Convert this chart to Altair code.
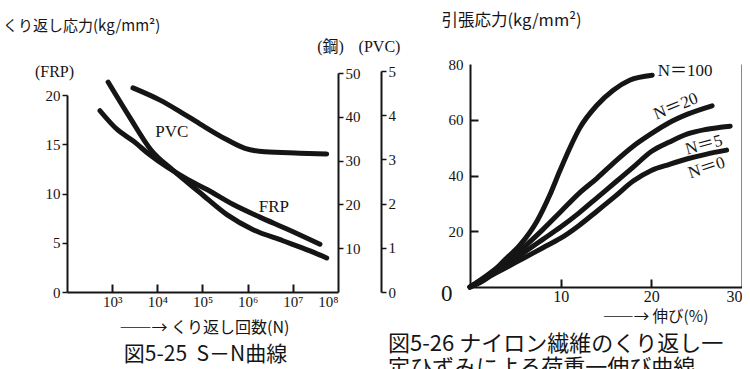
import altair as alt
import numpy as np
import pandas as pd

# ---------------- Fig. 5-25: S-N curves ----------------
# exponent of the number of cycles N (log10) and repeated stress (kg/mm2) on each material's own axis
frp_logn = [2.73, 3.11, 3.46, 3.84, 4.68, 5.10, 5.67, 6.27, 6.87, 7.60]
frp_stress = [18.4, 16.5, 15.35, 13.9, 11.4, 10.4, 8.9, 7.6, 6.4, 4.85]
pvc_logn = [2.91, 3.39, 3.87, 4.35, 4.94, 5.54, 6.12, 6.78, 7.38, 7.75]
pvc_stress = [4.75, 3.95, 3.2, 2.75, 2.25, 1.75, 1.41, 1.16, 0.93, 0.77]
steel_logn = [3.46, 4.06, 4.50, 4.94, 5.50, 5.94, 6.38, 7.15, 7.75]
steel_stress = [46.6, 43.8, 41.2, 38.4, 35.0, 32.8, 32.0, 31.7, 31.5]
sn_tick_logn = [3, 4, 5, 6, 7, 8]
sn_inner_tick_logn = [3, 4, 5, 6, 7]
frp_ticks = [0, 5, 10, 15, 20]
steel_ticks = [10, 20, 30, 40, 50]
pvc_ticks = [0, 1, 2, 3, 4, 5]
sn_labels = ["PVC", "FRP"]
sn_label_logn = [4.32, 6.58]
sn_label_stress = [16.2, 8.6]

# ---------------- Fig. 5-26: load - elongation of nylon fibre ----------------
n_series = ["N=100", "N=20", "N=5", "N=0"]
elong_n100 = [0, 1.9, 3.6, 5.5, 7.4, 8.8, 9.9, 11.0, 12.1, 14.0, 15.8, 17.6, 20.1]
stress_n100 = [0, 3.2, 9.0, 15.0, 23.7, 33.0, 41.6, 49.8, 57.0, 65.2, 70.6, 74.2, 76.0]
elong_n20 = [0, 2, 4, 6, 8, 10, 12, 14, 16, 18, 20, 22, 24, 26.7]
stress_n20 = [0, 4.5, 9.5, 14.5, 20.5, 27, 33.5, 39, 45, 50.5, 55, 59, 62, 65]
elong_n5 = [0, 2, 4, 6, 8, 10, 12, 14, 16, 18, 20, 22, 24, 26, 28.7]
stress_n5 = [0, 4, 8, 12.5, 17, 21.5, 26.5, 32, 37.5, 43, 48.6, 52, 54.9, 56.5, 57.7]
elong_n0 = [0, 2, 4, 6, 8, 10, 12, 14, 16, 18, 20, 22, 24, 26, 28.3]
stress_n0 = [0, 3.5, 7, 10.5, 14, 17.5, 22, 27.2, 32.5, 38, 41.8, 44, 46, 47.6, 49.1]
ne_x_ticks = [10, 20, 30]
ne_y_ticks = [0, 20, 40, 60, 80]
ne_inner_x = [10, 20]
ne_inner_y = [20, 40, 60]
ne_label_text = ["N＝100", "N＝20", "N＝5", "N＝0"]
ne_label_e = [20.7, 22.7, 25.8, 26.1]
ne_label_s = [77.4, 64.8, 50.9, 42.7]

INK = "#151515"
SERIF = "Liberation Serif, DejaVu Serif, Noto Sans CJK JP"
JP = "Noto Sans CJK JP"

LW, LH = 271, 231
RW, RH = 272, 226
TICK_PX = 8  # length of the inward ticks

def inner_tick_axis(values, orient):
    # an extra axis moved inside the plot so that its ticks point inwards
    return alt.Axis(orient=orient, offset=-TICK_PX, values=values, labels=False,
                    domain=False, ticks=True, tickSize=TICK_PX, tickWidth=2,
                    tickColor=INK, grid=False, title=None)

# ======================= left panel =======================
xscale_l = alt.Scale(type="log", domain=[1e2, 1e8])
sup_expr = ("'10' + ['⁰','¹','²','³','⁴','⁵','⁶','⁷','⁸']"
            "[round(log(datum.value)/LN10)]")
x_left = alt.X(
    "N:Q", scale=xscale_l,
    axis=alt.Axis(values=[10.0 ** k for k in sn_tick_logn], labelExpr=sup_expr,
                  ticks=False, grid=False, labelFont=SERIF, labelFontSize=15,
                  labelPadding=2, labelColor=INK, domainColor=INK, domainWidth=2,
                  title="――→ くり返し回数(N)", titleFont=JP, titleFontSize=16,
                  titleFontWeight="normal", titleColor=INK, titleX=137, titleY=35,
                  titleAlign="center", titleBaseline="middle"))
x_left_na = alt.X("N:Q", scale=xscale_l, axis=None)

y_frp = alt.Y(
    "S:Q", scale=alt.Scale(domain=[0, 20], range=[LH, 34]),
    axis=alt.Axis(values=frp_ticks, grid=False, tickSize=5, tickWidth=1.5,
                  tickColor=INK, labelPadding=2, labelFont=SERIF, labelFontSize=15,
                  labelColor=INK, domainColor=INK, domainWidth=2,
                  title="(FRP)", titleAngle=0, titleX=-13, titleY=10,
                  titleAlign="center", titleBaseline="middle", titleFont=SERIF,
                  titleFontSize=16, titleFontWeight="normal", titleColor=INK))

frp_df = pd.DataFrame({"N": np.power(10.0, frp_logn), "S": frp_stress})
pvc_df = pd.DataFrame({"N": np.power(10.0, pvc_logn), "S": pvc_stress})
steel_df = pd.DataFrame({"N": np.power(10.0, steel_logn), "S": steel_stress})
sn_lab_df = pd.DataFrame({"N": np.power(10.0, sn_label_logn), "S": sn_label_stress,
                          "label": sn_labels})
sn_tick_df = pd.DataFrame({"N": np.power(10.0, sn_inner_tick_logn)})

line_kw = dict(color=INK, strokeWidth=5, interpolate="monotone", strokeCap="round")

frp_line = alt.Chart(frp_df).mark_line(**line_kw).encode(x=x_left, y=y_frp)
frp_text = alt.Chart(sn_lab_df).mark_text(font=SERIF, fontSize=17, color=INK).encode(
    x=x_left, y=y_frp, text="label:N")
top_text_l = alt.Chart(pd.DataFrame({"t": ["くり返し応力(kg/mm²)"]})).mark_text(
    font=JP, fontSize=15, align="left", baseline="middle", color=INK).encode(
    text="t:N", x=alt.value(-64), y=alt.value(-35))
frp_layer = alt.layer(frp_line, frp_text, top_text_l)

steel_line = alt.Chart(steel_df).mark_line(**line_kw).encode(
    x=x_left_na,
    y=alt.Y("S:Q", scale=alt.Scale(domain=[0, 50], range=[LH, 12]),
            axis=alt.Axis(orient="right", values=steel_ticks, grid=False, tickSize=5,
                          tickWidth=1.5, tickColor=INK, labelPadding=2, labelFont=SERIF,
                          labelFontSize=15, labelColor=INK, domainColor=INK, domainWidth=2,
                          title="(鋼)", titleAngle=0, titleX=-8, titleY=-15,
                          titleAlign="center", titleBaseline="middle", titleFont=SERIF,
                          titleFontSize=16, titleFontWeight="normal", titleColor=INK)))
pvc_line = alt.Chart(pvc_df).mark_line(**line_kw).encode(
    x=x_left_na,
    y=alt.Y("S:Q", scale=alt.Scale(domain=[0, 5], range=[LH, 10]),
            axis=alt.Axis(orient="right", offset=43, values=pvc_ticks, grid=False,
                          tickSize=5, tickWidth=1.5, tickColor=INK, labelPadding=2,
                          labelFont=SERIF, labelFontSize=15, labelColor=INK,
                          domainColor=INK, domainWidth=2,
                          title="(PVC)", titleAngle=0, titleX=-2, titleY=-15,
                          titleAlign="center", titleBaseline="middle", titleFont=SERIF,
                          titleFontSize=16, titleFontWeight="normal", titleColor=INK)))
xtick_l = alt.Chart(sn_tick_df).mark_point(opacity=0).encode(
    x=alt.X("N:Q", scale=xscale_l,
            axis=inner_tick_axis([10.0 ** k for k in sn_inner_tick_logn], "bottom")))

left = alt.layer(frp_layer, steel_line, pvc_line, xtick_l).resolve_scale(
    y="independent").resolve_axis(x="independent").properties(
    width=LW, height=LH,
    title=alt.TitleParams("図5-25\u00a0 S－N曲線", orient="bottom", anchor="middle",
                          font=JP, fontSize=21, fontWeight="normal", color=INK,
                          dx=3, offset=9))

# ======================= right panel =======================
xscale_r = alt.Scale(domain=[0, 30])
yscale_r = alt.Scale(domain=[0, 80], range=[RH, 3])

x_right = alt.X(
    "e:Q", scale=xscale_r,
    axis=alt.Axis(values=ne_x_ticks, ticks=False, grid=False, labelFont=SERIF,
                  labelFontSize=16, labelPadding=1, labelColor=INK, domainColor=INK,
                  domainWidth=2, title="――→ 伸び(%)", titleFont=JP, titleFontSize=15.5,
                  titleFontWeight="normal", titleColor=INK, titleX=185, titleY=29,
                  titleAlign="center", titleBaseline="middle"))
y_right = alt.Y(
    "s:Q", scale=yscale_r,
    axis=alt.Axis(values=ne_y_ticks, ticks=False, grid=False, labelFont=SERIF,
                  labelFontSize={"condition": {"test": "datum.value === 0", "value": 23},
                                 "value": 15},
                  labelPadding={"condition": {"test": "datum.value === 0", "value": 18},
                                "value": 7},
                  labelOffset={"condition": {"test": "datum.value === 0", "value": 6},
                               "value": 0},
                  labelColor=INK, domainColor=INK, domainWidth=2,
                  title="引張応力(kg/mm²)", titleAngle=0, titleX=41, titleY=-41,
                  titleAlign="center", titleBaseline="middle", titleFont=JP,
                  titleFontSize=16.5, titleFontWeight="normal", titleColor=INK))
x_r_na = alt.X("e:Q", scale=xscale_r, axis=None)
y_r_na = alt.Y("s:Q", scale=yscale_r, axis=None)

rows = []
for name, es, ss in zip(n_series, [elong_n100, elong_n20, elong_n5, elong_n0],
                        [stress_n100, stress_n20, stress_n5, stress_n0]):
    for e, s in zip(es, ss):
        rows.append({"n": name, "e": e, "s": s})
ne_df = pd.DataFrame(rows)

ne_lines = alt.Chart(ne_df).mark_line(**line_kw).encode(x=x_right, y=y_right, detail="n:N")

lab_df = pd.DataFrame({"label": ne_label_text, "e": ne_label_e, "s": ne_label_s})
label_angles = [0, 338, 345, 342]
label_aligns = ["left", "center", "center", "center"]
ne_texts = []
for i in range(len(ne_label_text)):
    ne_texts.append(
        alt.Chart(lab_df.iloc[[i]]).mark_text(
            font=SERIF, fontSize=17, color=INK, angle=label_angles[i],
            align=label_aligns[i], baseline="middle").encode(
            x=x_r_na, y=y_r_na, text="label:N"))

ticks_r = alt.Chart(pd.DataFrame({"e": ne_inner_x, "s": ne_inner_y[:2]})).mark_point(
    opacity=0).encode(
    x=alt.X("e:Q", scale=xscale_r, axis=inner_tick_axis(ne_inner_x, "bottom")),
    y=alt.Y("s:Q", scale=yscale_r, axis=inner_tick_axis(ne_inner_y, "left")))
frame_r = alt.Chart(pd.DataFrame({"s": [0, 80]})).mark_point(opacity=0).encode(
    y=alt.Y("s:Q", scale=yscale_r,
            axis=alt.Axis(orient="right", labels=False, ticks=False, title=None,
                          grid=False, domainColor=INK, domainWidth=2)))

right = alt.layer(ne_lines, *ne_texts, ticks_r, frame_r).resolve_axis(
    x="independent", y="independent").properties(
    width=RW, height=RH,
    title=alt.TitleParams(["図5-26 ナイロン繊維のくり返し一", "定ひずみによる荷重一伸び曲線"],
                          orient="bottom", anchor="start", frame="group", dx=-82,
                          font=JP, fontSize=22, fontWeight="normal", color=INK,
                          lineHeight=24, offset=9))

chart = alt.hconcat(left, right, spacing=132, bounds="flush").properties(
    padding={"left": 3, "top": 12, "right": 0, "bottom": 0},
    background="white").configure_view(stroke=None)

chart.save("out.html", embed_options={"renderer": "svg", "actions": False})
